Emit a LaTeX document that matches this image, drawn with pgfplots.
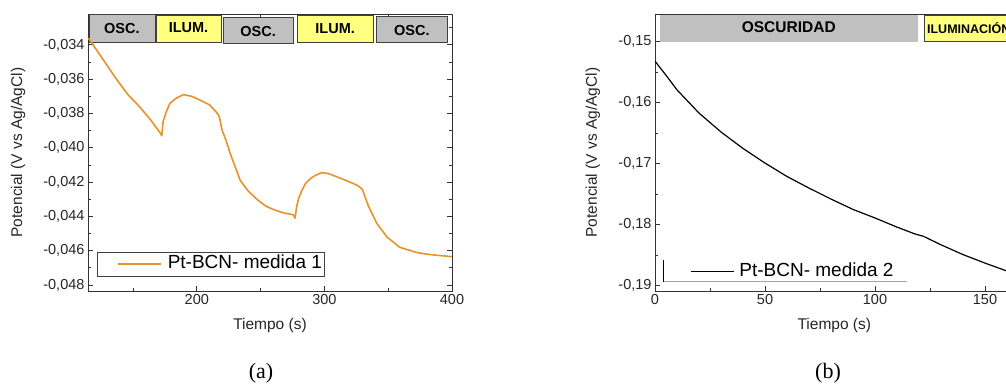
\documentclass[border=0pt]{standalone}
\usepackage{pgfplots}
\pgfplotsset{compat=1.18}
\usepackage{fontspec}
\setmainfont{Liberation Sans}
\newfontfamily\seriffont{Liberation Serif}
\definecolor{curveorange}{HTML}{E8922A}
\definecolor{boxgray}{HTML}{C0C0C0}
\definecolor{boxyellow}{HTML}{FFFF80}
\definecolor{boxedge}{HTML}{404040}
\tikzset{boxtxt/.style={font=\fontsize{14.5}{16}\selectfont\bfseries, black}}
\pgfplotsset{
  common/.style={
    scale only axis,
    anchor=south west,
    height=277pt,
    tick align=inside,
    major tick length=5pt,
    minor tick length=3pt,
    axis line style={black!80, line width=0.9pt},
    every tick/.style={black!80, line width=0.8pt},
    tick label style={font=\fontsize{14.5}{16}\selectfont, black!85},
    label style={font=\fontsize{15.5}{18}\selectfont, black!85},
    /pgf/number format/assume math mode=true,
    scaled y ticks=false,
    xlabel={Tiempo (s)},
    ylabel={Potencial (V vs Ag/AgCl)},
    xlabel style={at={(axis description cs:0.5,-0.123)}, anchor=center},
    legend style={anchor=south west, font=\fontsize{19}{21}\selectfont,
      inner xsep=2pt, inner ysep=3pt,
      nodes={inner sep=0pt, text height=14pt, text depth=4pt},
      /tikz/every odd column/.append style={column sep=6pt}},
    legend cell align=left,
  },
}
\begin{document}
\begin{tikzpicture}
\useasboundingbox (0,0) rectangle (1006pt,385pt);
\clip (0,0) rectangle (1006pt,385pt);
% ---------------- (a) ----------------
\begin{axis}[common,
  at={(88pt,94pt)}, width=364pt,
  xmin=114.7, xmax=400, ymin=-0.04835, ymax=-0.0322,
  xtick={200,300,400}, minor xtick={150,250,350},
  ytick={-0.048,-0.046,-0.044,-0.042,-0.040,-0.038,-0.036,-0.034},
  minor ytick={-0.047,-0.045,-0.043,-0.041,-0.039,-0.037,-0.035,-0.033},
  yticklabel style={/pgf/number format/.cd, fixed, fixed zerofill, precision=3, use comma},
  ylabel style={at={(axis description cs:-0.192,0.5)}, anchor=center},
  legend style={at={(axis description cs:0.0247,0.0542)}, draw=black!75, fill=white},
  legend image code/.code={\path (0pt,0pt); \draw[#1, line width=1.6pt] (18pt,0pt) -- (61pt,0pt);},
]
\draw[boxedge, fill=boxgray, line width=0.8pt] (axis cs:115.5,-0.03383) rectangle (axis cs:167.2,-0.03225);
\node[boxtxt] at (axis cs:141.3,-0.03307) {OSC.};
\draw[boxedge, fill=boxyellow, line width=0.8pt] (axis cs:168,-0.03384) rectangle (axis cs:219,-0.03226);
\node[boxtxt] at (axis cs:193.5,-0.03300) {ILUM.};
\draw[boxedge, fill=boxgray, line width=0.8pt] (axis cs:220.6,-0.03389) rectangle (axis cs:275.5,-0.03237);
\node[boxtxt] at (axis cs:248,-0.03322) {OSC.};
\draw[boxedge, fill=boxyellow, line width=0.8pt] (axis cs:278.6,-0.03384) rectangle (axis cs:338.2,-0.03226);
\node[boxtxt] at (axis cs:308.4,-0.03305) {ILUM.};
\draw[boxedge, fill=boxgray, line width=0.8pt] (axis cs:340.6,-0.03387) rectangle (axis cs:396.3,-0.03235);
\node[boxtxt] at (axis cs:368.5,-0.03315) {OSC.};
\addplot[curveorange, line width=1.6pt, line join=round] coordinates {
(115,-0.0336) (126,-0.0348) (137,-0.0360) (146,-0.0369) (155,-0.0376) (163,-0.0383)
(171,-0.0391) (172.5,-0.0393) (173.5,-0.0385) (176,-0.0379) (179,-0.0374) (184,-0.0371)
(189.5,-0.0369) (196,-0.0370) (202,-0.0372) (210,-0.0375) (215,-0.0379) (217,-0.0381)
(218,-0.0383) (219.5,-0.0389) (223,-0.0396) (226,-0.0403) (230,-0.0411) (234,-0.0419)
(240,-0.0425) (247,-0.0430) (254,-0.0434) (260,-0.0436) (268,-0.0438) (275.5,-0.0439)
(277,-0.0441) (278.3,-0.0434) (280,-0.0429) (282.3,-0.0425) (285,-0.0421) (289,-0.0418)
(293,-0.0416) (298,-0.04145) (303,-0.0415) (310,-0.0417) (320,-0.0420) (326,-0.0422)
(329.5,-0.0424) (330.6,-0.0426) (334.5,-0.0434) (341,-0.0444) (349,-0.0452) (359,-0.0458)
(372,-0.0461) (380,-0.0462) (386,-0.04625) (393,-0.0463) (400,-0.04635)
};
\addlegendentry{Pt-BCN- medida 1\hspace{9pt}}
\end{axis}
% ---------------- (b) ----------------
\begin{axis}[common,
  at={(655pt,94pt)}, width=358.6pt,
  xmin=0, xmax=163, ymin=-0.19087, ymax=-0.14546,
  xtick={0,50,100,150}, minor xtick={25,75,125},
  ytick={-0.19,-0.18,-0.17,-0.16,-0.15},
  minor ytick={-0.185,-0.175,-0.165,-0.155},
  yticklabel style={/pgf/number format/.cd, fixed, fixed zerofill, precision=2, use comma},
  ylabel style={at={(axis description cs:-0.173,0.5)}, anchor=center},
  legend style={at={(axis description cs:0.0223,0.0253)}, draw=none, fill=none,
    /tikz/every odd column/.append style={column sep=5pt}},
  legend image code/.code={\path (0pt,0pt); \draw[#1] (25pt,0pt) -- (68pt,0pt);},
]
\fill[boxgray] (axis cs:2.3,-0.1500) rectangle (axis cs:119.4,-0.14562);
\node[boxtxt, font=\fontsize{15.5}{17}\selectfont\bfseries] at (axis cs:60.8,-0.14759) {OSCURIDAD};
\draw[boxedge, fill=boxyellow, line width=0.8pt] (axis cs:122.3,-0.1500) rectangle (axis cs:175,-0.14562);
\node[boxtxt, font=\fontsize{12.5}{14}\selectfont\bfseries, anchor=west, inner sep=0pt] at (axis cs:123.6,-0.14780) {ILUMINACIÓN};
\draw[black!35, line width=1.5pt] (rel axis cs:0.0223,0.0336) -- (rel axis cs:0.7027,0.0336);
\draw[black, line width=0.9pt] (rel axis cs:0.0223,0.0336) -- (rel axis cs:0.0223,0.112);
\addplot[black, line width=1.2pt] coordinates {
(0,-0.1532) (5,-0.1555) (10,-0.1579) (15,-0.1598) (20,-0.1617) (30,-0.1648)
(40,-0.1675) (50,-0.1699) (60,-0.1721) (70,-0.1740) (80,-0.1758) (90,-0.1775)
(100,-0.1789) (110,-0.1804) (118,-0.1815) (122,-0.1819) (130,-0.1833) (140,-0.1849)
(150,-0.1863) (160,-0.1876) (163,-0.1880)
};
\addlegendentry{Pt-BCN- medida 2}
\end{axis}
\node[font=\seriffont\fontsize{22}{24}\selectfont] at (261pt,12pt) {(a)};
\node[font=\seriffont\fontsize{22}{24}\selectfont] at (828pt,12pt) {(b)};
\end{tikzpicture}
\end{document}
